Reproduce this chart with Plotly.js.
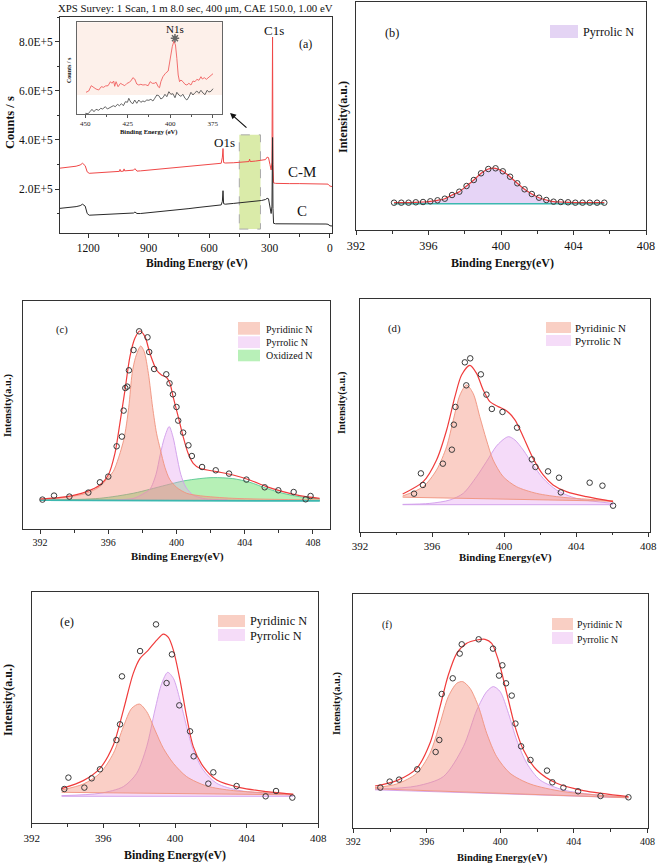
<!DOCTYPE html>
<html><head><meta charset="utf-8">
<script src="https://cdn.plot.ly/plotly-3.0.1.min.js"></script>
<style>html,body{margin:0;padding:0;background:#fff}#chart{width:661px;height:866px}</style>
</head><body><div id="chart"></div>
<script>
// ---------------- (a) survey ----------------
const surveyEnergy = [1340,1300,1260,1240,1228,1215,1205,1195,1150,1100,1060,1045,1042,1039,1025,1022,1019,1000,975,968,958,940,900,850,800,750,700,650,600,560,540,534,531,528,520,480,450,420,402,399,396,370,340,320,312,305,298,292,288,285,283,280,270,250,200,150,100,50,20,10,5,0,-10];
const surveyCM = [2.85e5,2.88e5,2.93e5,2.98e5,3.05e5,2.95e5,2.70e5,2.64e5,2.66e5,2.69e5,2.71e5,2.72e5,2.80e5,2.72e5,2.73e5,2.82e5,2.74e5,2.75e5,2.77e5,2.83e5,2.73e5,2.74e5,2.77e5,2.81e5,2.85e5,2.88e5,2.92e5,2.96e5,3.00e5,3.03e5,3.05e5,3.30e5,3.65e5,3.08e5,3.06e5,3.07e5,3.09e5,3.11e5,3.12e5,3.22e5,3.12e5,3.14e5,3.16e5,3.20e5,3.30e5,3.28e5,3.00e5,2.78e5,3.10e5,8.20e5,3.00e5,2.25e5,2.23e5,2.22e5,2.22e5,2.22e5,2.22e5,2.22e5,2.21e5,2.20e5,2.15e5,2.12e5,2.10e5];
const surveyC = [1.21e5,1.24e5,1.28e5,1.32e5,1.38e5,1.30e5,1.00e5,0.93e5,0.95e5,0.97e5,0.99e5,1.00e5,1.00e5,1.00e5,1.00e5,1.01e5,1.00e5,1.00e5,1.02e5,1.06e5,1.00e5,1.00e5,1.03e5,1.07e5,1.11e5,1.15e5,1.20e5,1.25e5,1.30e5,1.33e5,1.35e5,1.50e5,1.93e5,1.40e5,1.38e5,1.41e5,1.43e5,1.46e5,1.48e5,1.48e5,1.48e5,1.50e5,1.53e5,1.57e5,1.62e5,1.60e5,1.35e5,1.00e5,1.30e5,4.10e5,1.20e5,0.60e5,0.58e5,0.58e5,0.60e5,0.58e5,0.58e5,0.58e5,0.57e5,0.56e5,0.52e5,0.50e5,0.49e5];
const surveyTicks = [2e5,4e5,6e5,8e5];
const surveyTickText = ['2.0E+5','4.0E+5','6.0E+5','8.0E+5'];
const highlightRange = [450,345];
const highlightCounts = [0.364e5,4.21e5];
const arrowTail = [407,4.45e5], arrowHead = [496,5.1e5];

// inset (N1s region)
const insetEnergyCM = [449.6,448.0,446.5,445.1,443.7,442.1,440.6,439.2,438.2,436.6,435.2,434.3,433.3,432.7,431.9,430.7,429.3,428.3,426.8,425.4,424.0,422.8,422.0,420.9,419.7,418.5,417.3,416.1,414.6,413.0,411.8,410.6,409.4,408.3,407.1,406.3,405.5,404.3,402.8,401.2,400.4,399.6,398.8,397.8,396.9,396.1,395.3,394.5,393.7,392.5,391.3,390.2,389.0,387.8,386.6,385.4,384.3,383.1,381.9,381.1,379.9,378.7,377.6,376.0,374.8];
const insetCM = [21.7,23,28.3,26.3,25,24,27.3,26.7,28,28.3,32.3,30.7,33,27.7,32.3,27.3,30.7,29.7,28.3,30.7,31.7,34,36.3,35,30,29,29.7,29,29.3,28.3,32.3,30.7,30.7,31.7,27.3,26.3,32.3,37.3,40.7,43,52.3,62.3,67.3,73,69,55.7,39,32.3,34,32.3,29.7,29,30.7,29,33,32.3,34.7,33.7,37.3,35,36.3,34.7,36.3,38.3,40.3];
const insetEnergyC = [450.0,448.4,447.2,446.1,444.9,443.7,442.1,440.9,439.8,438.2,437.0,435.8,434.6,433.5,432.3,431.1,429.9,428.7,427.6,426.4,425.2,424.4,423.2,422.0,420.9,419.7,418.5,417.3,416.1,415.0,413.8,412.6,411.4,410.2,409.1,407.9,406.7,405.5,404.3,403.1,402.0,400.8,399.6,398.4,397.2,396.1,394.9,393.7,392.5,391.3,390.2,389.0,387.8,386.6,385.4,384.3,383.1,381.9,380.7,379.5,378.3,377.2,376.0,374.8];
const insetC = [0.7,0.3,2.3,4.7,2.3,4.7,3.7,5.7,5,7.3,5,6.3,7.3,8.3,7.3,9.7,8.3,10.3,8.3,12.3,11.7,15.7,11.7,10.3,14,10.7,14,11.7,13,12.3,14,13.7,14.7,13,15.7,19,18.3,15,16.3,19.7,17.3,22.3,19.7,20.3,16.3,21.7,19,17.7,19.7,15.7,14,17,21.7,19,21.3,23,20.7,23.7,21,19.3,23.7,22,22.7,25.3];
const insetStarX = [397.2], insetStarY = [75.7];
const insetShadeFrom = 19;

// ---------------- (b) ----------------
const bEnergy = [394.1,394.5,394.9,395.3,395.7,396.1,396.5,396.9,397.3,397.7,398.1,398.5,398.9,399.3,399.7,400.1,400.5,400.9,401.3,401.7,402.1,402.5,402.9,403.3,403.7,404.1,404.5,404.9,405.3,405.7];
const bIntensity = [27.3,27.3,27.3,27.7,28,28.7,29.7,31.3,35,38.3,44,50,56.7,61,61.7,58.7,53.3,46.7,40.7,36,32.3,30,28.3,28,27.7,27.3,27.3,27.3,27.3,27.3];
const bBaseE = [394.1,405.7], bBase = [26.3,26.3];

// ---------------- (c) ----------------
const cEnergy = [392.14,392.82,393.72,394.83,395.51,396.0,396.49,396.8,396.9,397.0,397.11,397.21,397.48,397.81,398.3,398.4,398.69,399.4,399.59,399.79,400.0,400.1,400.39,400.7,400.9,401.5,402.3,403.08,404.1,405.17,405.97,406.87,407.57,407.86];
const cIntensity = [29.7,33.7,32.7,36.7,47,52.7,83,92.7,118.7,141.3,142.7,159,179.3,198,192,177.3,160.3,155,146,135,122.3,108.7,96.7,84,73.3,62.3,59,55.7,49.7,42,39,37.3,30,33.3];
const cFitE = [392,393.56,394.73,395.51,396.0,396.39,396.68,396.98,397.27,397.56,397.85,398.15,398.44,398.83,399.12,399.41,399.61,399.8,400.1,400.39,400.68,400.98,401.37,402.34,403.32,404.29,405.27,406.24,407.22,408.39];
const cFit = [30.3,32.7,37.7,44.3,54.3,76,106,139.3,172.7,191,198.3,192.7,176,159.3,154.3,152,146,132.7,112.7,92.7,76,66,61,57.7,54.3,49.3,42.7,37.7,33.7,31];
const cPyridinicE = [392,393.5,394.7,395.5,396.0,396.3,396.9,397.2,397.4,397.6,397.9,398.1,398.35,398.6,398.83,399.05,399.32,399.6,400.0,400.6,401.4,403.3,408.4];
const cPyridinic = [30,32,36,42.7,52,58,89,122,156,172,183.3,178,156,122,96,80,62,50,42,36,33.5,31,29.3];
const cPyrrolicE = [396.5,397.5,398.0,398.44,398.8,399.05,399.3,399.57,399.8,400.0,400.25,400.55,401.0,401.7,403.0];
const cPyrrolic = [29.5,31,35,40,55,75,92,102.7,92,75,55,42,34,30.5,29.5];
const cOxidizedE = [392,395.5,397.46,398.44,399.41,400.39,401.37,402.15,403.3,404.3,405.27,406.24,407.2,408.4];
const cOxidized = [29,31,36,40,44.3,48.3,50.7,51.7,50.7,47,41,36,32.7,30.3];
const cBaseE = [392,408.4], cBase = [29,28.5];

// ---------------- (d) ----------------
const dEnergy = [395.0,395.38,395.49,396.6,397.1,397.21,397.3,397.82,397.9,398.12,398.71,399.02,399.32,399.91,400.72,401.54,401.74,402.44,403.05,403.15,404.75,405.46,406.05];
const dIntensity = [38,58.3,46.7,68,82,107,124.7,169.3,146.3,173.3,157.3,137,122.7,119.7,104,72.3,64.7,60.3,54,39.3,49,46,26];
const dFitE = [394.37,395.51,396.25,396.81,397.27,397.64,398.1,398.47,398.84,399.21,399.67,400.13,400.6,401.06,401.61,402.17,402.72,403.46,404.57,406.05];
const dFit = [37.7,50,71.7,101.7,135,156.7,166.3,158.3,141.7,130,125,121,111.7,95,73.3,56.7,46.7,40,35,30];
const dPyridinicE = [394.37,395.51,396.25,396.81,397.18,397.55,397.91,398.28,398.65,399.02,399.39,399.95,400.69,401.8,403.28,406.05];
const dPyridinic = [35.7,45,61.7,85,111.7,136.7,146.7,138.3,115,91.7,71.7,55,45,38.3,34.3,31];
const dPyridinicBaseE = [394.37,406.05], dPyridinicBase = [34.5,30.5];
const dPyrrolicE = [394.37,395.88,396.99,397.73,398.47,399.02,399.58,400.04,400.26,400.6,401.06,401.61,402.17,402.91,404.01,406.05];
const dPyrrolic = [27.3,28.3,31.7,38.3,55,70,85.7,93.3,95,91.7,81.7,66.7,53.3,41.7,33.3,28.3];
const dPyrrolicBaseE = [394.37,406.05], dPyrrolicBase = [27,27];

// ---------------- (e) ----------------
const eEnergy = [393.82,394.05,394.94,395.35,395.81,396.73,396.93,397.04,398.05,398.94,399.53,399.83,400.24,400.84,401.04,401.86,402.14,403.44,405.06,405.64,406.55];
const eIntensity = [34.3,45.7,35.7,45,54,83.3,99,147,172.3,199,140.3,169,118,92,67,39.7,51,37.3,27,32.3,25.7];
const eFitE = [393.67,394.88,395.81,396.56,397.12,397.67,398.05,398.51,398.98,399.35,399.63,399.91,400.28,400.65,401.02,401.58,402.33,403.63,405.12,406.6];
const eFit = [34.7,42.7,55,78.3,113.3,150,165,173.3,183.3,189.3,186,173.3,143.3,106.7,76.7,56.7,43.3,35.7,31.7,29];
const ePyridinicE = [393.67,394.88,395.81,396.56,397.12,397.58,398.01,398.42,398.88,399.35,399.91,400.65,401.77,403.26,406.6];
const ePyridinic = [33.3,39.3,50,70,96.7,115,119.3,111.7,93.3,75,60,46.7,37.3,32.7,29.3];
const ePyridinicBaseE = [393.67,406.6], ePyridinicBase = [31,28.5];
const ePyrrolicE = [393.67,395.81,397.12,397.86,398.42,398.88,399.26,399.59,399.91,400.28,400.65,401.02,401.58,402.33,403.63,406.6];
const ePyrrolic = [27.7,30,36.7,50,76.7,113.3,140,151,145,123.3,96.7,73.3,53.3,40,32.7,28.3];
const ePyrrolicBaseE = [393.67,406.6], ePyrrolicBase = [27,27];

// ---------------- (f) ----------------
const fEnergy = [393.47,393.98,394.49,395.48,396.48,396.68,396.81,397.41,397.79,397.9,398.82,399.6,399.93,400.11,400.31,400.62,400.82,401.13,401.64,402.54,402.83,403.43,404.23,405.45,406.97];
const fIntensity = [40.7,46.7,48.7,59,76.3,88.3,134.3,150,174.7,184,189,179.7,152.7,163,145,132.7,104.7,82,68.3,57.7,46,40.7,37,32.3,31];
const fFitE = [393.18,394.36,395.45,396.17,396.72,397.17,397.63,398.17,398.72,399.17,399.53,399.89,400.35,400.8,401.26,401.98,403.07,404.52,406.97];
const fFit = [42.3,47.7,60,85,121.7,153.3,175,185,188.3,189,185,168.3,135,101.7,78.3,58.3,45,37.7,31.7];
const fPyridinicE = [393.18,394.36,395.45,396.17,396.72,397.17,397.63,397.95,398.35,398.81,399.26,399.8,400.53,401.62,403.43,406.97];
const fPyridinic = [40.7,44.3,55,75,105,131.7,145,146.7,140,121.7,95,71.7,55,44.3,36.7,31];
const fPyridinicBaseE = [393.18,406.97], fPyridinicBase = [39.5,30.5];
const fPyrrolicE = [393.18,395.45,396.9,397.99,398.72,399.26,399.62,399.99,400.44,400.89,401.44,402.16,403.43,405.25,406.97];
const fPyrrolic = [39,42.3,51.7,81.7,118.3,136.7,141.7,136.7,115,88.3,65,48.3,38.3,33.3,31];
const fPyrrolicBaseE = [393.18,406.97], fPyrrolicBase = [38.5,30.5];

const xTitle = 'Binding Energy(eV)';
const yTitle = 'Intensity(a.u.)';

// ---------------- drawing ----------------
const W = 661, H = 866;
const FONT = '"Liberation Serif","Times New Roman",serif';
const px = x => x / W, py = y => 1 - y / H;
const RED = '#f03c3c';
const PYRI_FILL = 'rgba(242,140,120,0.42)', PYRI_LINE = 'rgba(240,150,130,0.95)';
const PYRR_FILL = 'rgba(230,160,240,0.38)', PYRR_LINE = 'rgba(210,160,235,0.95)';
const OXI_FILL = 'rgba(110,225,110,0.5)', OXI_LINE = 'rgba(90,200,150,0.9)';
const B_FILL = 'rgba(200,160,235,0.45)';
const TEAL = '#3cb8b0';

const traces = [];
function ln(ax, x, y, color, width, extra) {
  return Object.assign({type:'scatter', mode:'lines', x:x, y:y, xaxis:'x'+ax, yaxis:'y'+ax,
    line:{color:color, width:width}, hoverinfo:'skip', showlegend:false}, extra || {});
}
function pts(ax, x, y) {
  return {type:'scatter', mode:'markers', x:x, y:y, xaxis:'x'+ax, yaxis:'y'+ax, showlegend:false,
    marker:{symbol:'circle-open', size:5.5, color:'#3a3a3a', line:{width:1, color:'#3a3a3a'}}};
}
function comp(ax, bx, by, bcolor, bwidth, cx, cy, fill, lcolor) {
  traces.push(ln(ax, bx, by, bcolor, bwidth));
  traces.push(ln(ax, cx, cy, lcolor, 1, {fill:'tonexty', fillcolor:fill, line:{color:lcolor, width:1, shape:'spline', smoothing:0.8}}));
}
const spl = {shape:'spline', smoothing:0.8};

// (a)
traces.push(ln('', surveyEnergy, surveyCM, '#f04848', 1));
traces.push(ln('', surveyEnergy, surveyC, '#2a2a2a', 1));
// inset
traces.push(ln('2', insetEnergyCM, insetCM, '#f06060', 0.9));
traces.push(ln('2', insetEnergyC, insetC, '#555', 0.9));
traces.push({type:'scatter', mode:'markers', x:insetStarX, y:insetStarY, xaxis:'x2', yaxis:'y2', showlegend:false,
  marker:{symbol:'asterisk-open', size:7, color:'#666', line:{width:1.5, color:'#666'}}});
// (b)
traces.push(ln('3', bBaseE, bBase, TEAL, 1.5));
traces.push(ln('3', bEnergy, bIntensity, RED, 1.2, {fill:'tonexty', fillcolor:B_FILL, line:Object.assign({color:RED, width:1.2}, spl)}));
traces.push(pts('3', bEnergy, bIntensity));
// (c)
comp('4', cBaseE, cBase, TEAL, 1.5, cOxidizedE, cOxidized, OXI_FILL, OXI_LINE);
comp('4', cBaseE, cBase, TEAL, 0, cPyrrolicE, cPyrrolic, PYRR_FILL, PYRR_LINE);
comp('4', cBaseE, cBase, TEAL, 0, cPyridinicE, cPyridinic, PYRI_FILL, PYRI_LINE);
traces.push(ln('4', cBaseE, cBase, TEAL, 1.5));
traces.push(ln('4', cFitE, cFit, RED, 1.2, {line:Object.assign({color:RED, width:1.2}, spl)}));
traces.push(pts('4', cEnergy, cIntensity));
// (d)
comp('5', dPyrrolicBaseE, dPyrrolicBase, PYRR_LINE, 1, dPyrrolicE, dPyrrolic, PYRR_FILL, PYRR_LINE);
comp('5', dPyridinicBaseE, dPyridinicBase, PYRI_LINE, 1, dPyridinicE, dPyridinic, PYRI_FILL, PYRI_LINE);
traces.push(ln('5', dFitE, dFit, RED, 1.2, {line:Object.assign({color:RED, width:1.2}, spl)}));
traces.push(pts('5', dEnergy, dIntensity));
// (e)
comp('6', ePyrrolicBaseE, ePyrrolicBase, PYRR_LINE, 1, ePyrrolicE, ePyrrolic, PYRR_FILL, PYRR_LINE);
comp('6', ePyridinicBaseE, ePyridinicBase, PYRI_LINE, 1, ePyridinicE, ePyridinic, PYRI_FILL, PYRI_LINE);
traces.push(ln('6', eFitE, eFit, RED, 1.2, {line:Object.assign({color:RED, width:1.2}, spl)}));
traces.push(pts('6', eEnergy, eIntensity));
// (f)
comp('7', fPyrrolicBaseE, fPyrrolicBase, PYRR_LINE, 1, fPyrrolicE, fPyrrolic, PYRR_FILL, PYRR_LINE);
comp('7', fPyridinicBaseE, fPyridinicBase, PYRI_LINE, 1, fPyridinicE, fPyridinic, PYRI_FILL, PYRI_LINE);
traces.push(ln('7', fFitE, fFit, RED, 1.2, {line:Object.assign({color:RED, width:1.2}, spl)}));
traces.push(pts('7', fEnergy, fIntensity));

// axes
function dom(x0, x1, y0, y1) { return {x:[px(x0), px(x1)], y:[py(y1), py(y0)]}; }
function xAx(d, range, fs, anchor) {
  return {domain:d.x, range:range, anchor:anchor, tickmode:'linear', tick0:392, dtick:4,
    ticks:'outside', ticklen:4, tickwidth:1, tickcolor:'#333',
    minor:{tickmode:'linear', tick0:392, dtick:2, ticks:'outside', ticklen:2.5, tickcolor:'#333'},
    showline:true, mirror:true, linecolor:'#333', linewidth:1, showgrid:false, zeroline:false,
    tickfont:{family:FONT, size:fs, color:'#111'}, fixedrange:true};
}
function yAx(d, top, anchor) {
  return {domain:d.y, range:[0, top], anchor:anchor, showticklabels:false, ticks:'',
    showline:true, mirror:true, linecolor:'#333', linewidth:1, showgrid:false, zeroline:false, fixedrange:true};
}
const dA = dom(60, 332, 17, 233);
const dI = dom(77, 222, 22.3, 114);
const dB = dom(356, 646, 1.7, 230);
const dC = dom(23, 330, 301, 529.3);
const dD = dom(360, 650, 299.3, 531.7);
const dE = dom(31.7, 318.3, 591.7, 823.3);
const dF = dom(353.3, 648.3, 594.3, 828.3);

function ann(text, x, y, size, extra) {
  return Object.assign({text:text, x:px(x), y:py(y), xref:'paper', yref:'paper', showarrow:false,
    xanchor:'center', yanchor:'middle', font:{family:FONT, size:size, color:'#111'}}, extra || {});
}
function bold(t) { return '<b>' + t + '</b>'; }

const annotations = [
  ann('XPS Survey: 1 Scan, 1 m 8.0 sec, 400 μm, CAE 150.0, 1.00 eV', 195, 8, 10.8),
  ann(bold('Binding Energy (eV)'), 197, 263, 11.5),
  ann(bold('Counts / s'), 10, 123, 12.5, {textangle:-90}),
  ann('C1s', 274, 31, 13), ann('O1s', 224, 142, 13), ann('C-M', 302, 172, 15), ann('C', 302, 211, 15),
  ann('(a)', 305, 44, 12),
  ann('N1s', 175, 29, 11),
  ann(bold('Binding Energy (eV)'), 148, 132, 6.5),
  ann(bold('Counts / s'), 69, 70, 6, {textangle:-90}),
  {x:arrowHead[0], y:arrowHead[1], ax:arrowTail[0], ay:arrowTail[1], xref:'x', yref:'y', axref:'x', ayref:'y',
   showarrow:true, arrowhead:2, arrowsize:1, arrowwidth:1.2, arrowcolor:'#111', text:''},
  // (b)
  ann(bold(xTitle), 502, 263, 12), ann(bold(yTitle), 343, 117, 12, {textangle:-90}), ann('(b)', 392, 33, 12.3),
  ann('Pyrrolic N', 581, 32, 12.2, {xanchor:'left'}),
  // (c)
  ann(bold(xTitle), 177, 556, 10.8), ann(bold(yTitle), 8, 405, 10.5, {textangle:-90}), ann('(c)', 62, 330, 10.5),
  ann('Pyridinic N', 264, 329.5, 10, {xanchor:'left'}), ann('Pyrrolic N', 264, 342, 10, {xanchor:'left'}), ann('Oxidized N', 264, 355.5, 10, {xanchor:'left'}),
  // (d)
  ann(bold(xTitle), 505, 557, 10.8), ann(bold(yTitle), 342, 403, 10.4, {textangle:-90}), ann('(d)', 394, 328, 10.8),
  ann('Pyridinic N', 573, 328, 11, {xanchor:'left'}), ann('Pyrrolic N', 573, 341, 11, {xanchor:'left'}),
  // (e)
  ann(bold(xTitle), 175, 855, 11.9), ann(bold(yTitle), 8, 700, 12, {textangle:-90}), ann('(e)', 67, 622, 12.6),
  ann('Pyridinic N', 248, 621, 12.3, {xanchor:'left'}), ann('Pyrrolic N', 248, 636, 12.3, {xanchor:'left'}),
  // (f)
  ann(bold(xTitle), 502, 858, 10.5), ann(bold(yTitle), 337, 703, 10.5, {textangle:-90}), ann('(f)', 387, 625, 10),
  ann('Pyridinic N', 575, 624, 9.8, {xanchor:'left'}), ann('Pyrrolic N', 575, 639, 9.8, {xanchor:'left'})
];

function sw(x0, x1, y0, y1, color) {
  return {type:'rect', xref:'paper', yref:'paper', x0:px(x0), x1:px(x1), y0:py(y1), y1:py(y0),
    fillcolor:color, line:{width:0}};
}
const SW_PYRI = '#f9cfc4', SW_PYRR = '#f5dcf8', SW_OXI = '#b8f0b8', SW_B = '#e4d4f4';
const shapes = [
  {type:'rect', xref:'x', yref:'y', x0:highlightRange[0], x1:highlightRange[1], y0:highlightCounts[0], y1:highlightCounts[1],
   fillcolor:'rgba(205,228,140,0.75)', line:{color:'#aaa', width:1, dash:'dash'}, layer:'below'},
  {type:'rect', xref:'x2 domain', yref:'y2', x0:0, x1:1, y0:insetShadeFrom, y1:91.7, fillcolor:'#fdf0ea', line:{width:0}, layer:'below'},
  sw(550, 578, 25, 38, SW_B),
  sw(238, 260, 322, 334.7, SW_PYRI), sw(238, 260, 336.3, 348, SW_PYRR), sw(238, 260, 349.7, 361.3, SW_OXI),
  sw(546, 571, 322, 333, SW_PYRI), sw(546, 571, 335, 346, SW_PYRR),
  sw(218, 245, 615, 627, SW_PYRI), sw(218, 245, 629, 641, SW_PYRR),
  sw(552, 573, 618, 630, SW_PYRI), sw(552, 573, 632, 644, SW_PYRR)
];

const layout = {
  width:W, height:H, margin:{l:0, r:0, t:0, b:0}, showlegend:false,
  paper_bgcolor:'#fff', plot_bgcolor:'rgba(0,0,0,0)', font:{family:FONT, color:'#111'},
  xaxis:{domain:dA.x, range:[1340,-10], anchor:'y', tickmode:'linear', tick0:0, dtick:300,
    ticks:'outside', ticklen:4, tickcolor:'#333', minor:{tickmode:'linear', tick0:0, dtick:150, ticks:'outside', ticklen:2.5, tickcolor:'#333'},
    showline:true, mirror:true, linecolor:'#333', showgrid:false, zeroline:false, tickfont:{family:FONT, size:11.5, color:'#111'}},
  yaxis:{domain:dA.y, range:[0.204e5, 9.02e5], anchor:'x', tickmode:'array', tickvals:surveyTicks, ticktext:surveyTickText,
    ticks:'outside', ticklen:4, tickcolor:'#333', minor:{tickmode:'linear', tick0:0, dtick:1e5, ticks:'outside', ticklen:2.5, tickcolor:'#333'},
    showline:true, mirror:true, linecolor:'#333', showgrid:false, zeroline:false, tickfont:{family:FONT, size:11.5, color:'#111'}},
  xaxis2:{domain:dI.x, range:[454.9,369.5], anchor:'y2', tickmode:'linear', tick0:375, dtick:25,
    ticks:'outside', ticklen:3, tickcolor:'#555', minor:{tickmode:'linear', tick0:375, dtick:12.5, ticks:'outside', ticklen:2, tickcolor:'#555'},
    showline:true, mirror:true, linecolor:'#666', linewidth:1, showgrid:false, zeroline:false, tickfont:{family:FONT, size:7, color:'#222'}},
  yaxis2:{domain:dI.y, range:[0, 91.7], anchor:'x2', showticklabels:false, ticks:'', showline:true, mirror:true, linecolor:'#666', showgrid:false, zeroline:false},
  xaxis3:xAx(dB, [392,408], 12.2, 'y3'), yaxis3:yAx(dB, 228.3, 'x3'),
  xaxis4:xAx(dC, [391,409], 10, 'y4'), yaxis4:yAx(dC, 228.3, 'x4'),
  xaxis5:xAx(dD, [392,408.1], 11, 'y5'), yaxis5:yAx(dD, 232.3, 'x5'),
  xaxis6:xAx(dE, [392,408], 11, 'y6'), yaxis6:yAx(dE, 231.7, 'x6'),
  xaxis7:xAx(dF, [392,408.05], 10, 'y7'), yaxis7:yAx(dF, 234, 'x7'),
  annotations:annotations, shapes:shapes
};
Plotly.newPlot('chart', traces, layout, {staticPlot:true, displayModeBar:false});
</script></body></html>
